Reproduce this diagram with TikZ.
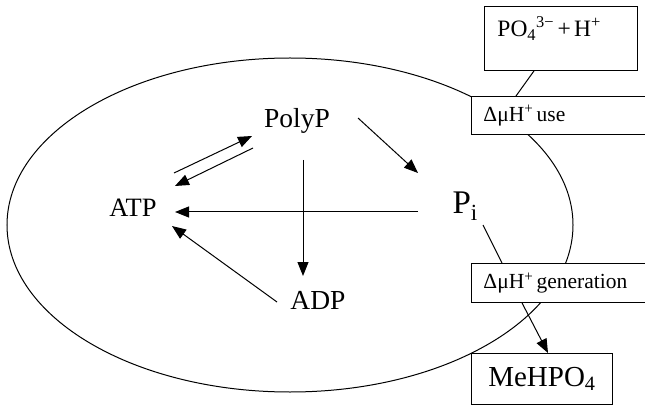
\documentclass[tikz,border=0pt]{standalone}
\usepackage{fontspec}
\setmainfont{Liberation Serif}
\usetikzlibrary{arrows.meta}

\begin{document}
\begin{tikzpicture}[
  x=1pt, y=-1pt,
  lbl/.style={inner sep=0pt, anchor=base},
  box/.style={draw, fill=white, inner sep=0pt, line width=0.9pt},
  arr/.style={-{Triangle[length=14pt,width=11pt]}},
  line width=1pt
]
  \useasboundingbox (0,0) rectangle (645,406);

  % cell membrane
  \draw (290,225) ellipse [x radius=283pt, y radius=167pt];

  \node[lbl] (polyp) at (297,128) {\fontsize{27.5}{29}\selectfont PolyP};
  \node[lbl] (atp) at (133,217) {\fontsize{26.5}{28}\selectfont ATP};
  \node[lbl] (adp) at (318,309) {\fontsize{27.5}{29}\selectfont ADP};
  \node[lbl, anchor=base west] (pi) at (452,214) {\fontsize{33}{34}\selectfont P\textsubscript{i}};

  \node[box, anchor=north west, minimum width=153pt, align=left, text width=127pt,
        inner xsep=13pt, inner ysep=8pt, text height=22pt, text depth=26pt]
    (po) at (484,6) {\fontsize{23.5}{25}\selectfont PO\textsubscript{4}\textsuperscript{3−} + H\textsuperscript{+}};
  \node[box, anchor=north west, minimum height=38pt, align=left, text width=160pt,
        inner xsep=12pt] (use) at (471,96) {\fontsize{21.5}{23}\selectfont ΔμH\textsuperscript{+} use};
  \node[box, anchor=north west, minimum height=39pt, align=left, text width=160pt,
        inner xsep=12pt] (gen) at (471,263) {\fontsize{21.5}{23}\selectfont ΔμH\textsuperscript{+} generation};
  \node[box, anchor=north west, minimum width=141pt, minimum height=51pt]
    (mehpo) at (471,353) {\fontsize{29}{31}\selectfont MeHPO\textsubscript{4}};

  \draw[arr] ([shift={(41,-44)}]atp.base) -- ([shift={(-45,8)}]polyp.base);
  \draw[arr] ([shift={(-44,20)}]polyp.base) -- ([shift={(42,-31)}]atp.base);
  \draw[arr] ([shift={(61,-10)}]polyp.base) -- ([shift={(-34,-41)}]pi.base west);
  \draw[arr] ([shift={(6,32)}]polyp.base) -- ([shift={(-15,-33)}]adp.base);
  \draw[arr] ([shift={(-34,-2)}]pi.base west) -- ([shift={(42,-5)}]atp.base);
  \draw[arr] ([shift={(-41,-7)}]adp.base) -- ([shift={(39,9)}]atp.base);

  \draw ([shift={(31,11)}]pi.base west) -- ([xshift=31pt]gen.north west);
  \draw ([xshift=50pt]po.south west) -- ([xshift=45pt]use.north west);
  \draw[arr] ([xshift=51pt]gen.south west) -- ([xshift=77pt]mehpo.north west);
\end{tikzpicture}
\end{document}
